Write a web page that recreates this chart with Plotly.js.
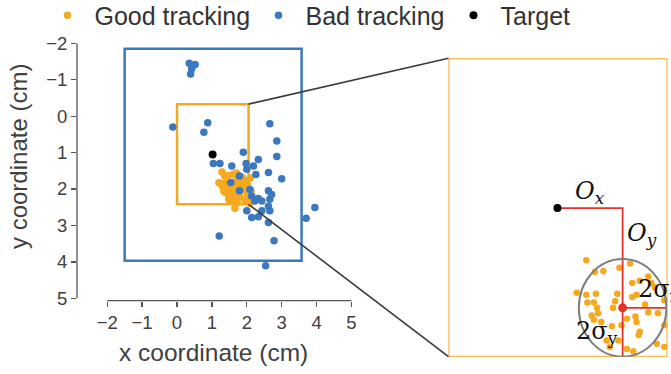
<!DOCTYPE html>
<html><head><meta charset="utf-8">
<script src="https://cdn.plot.ly/plotly-3.0.1.min.js"></script>
<style>html,body{margin:0;padding:0;background:#fff}#chart{width:671px;height:374px}</style>
</head><body><div id="chart"></div>
<script>
// ---- data (cm) ----
const goodX = [1.29,1.37,1.45,1.60,1.70,1.79,1.87,1.90,1.72,1.20,1.38,1.30,1.36,1.58,1.56,1.72,1.76,1.87,1.96,1.67,1.76,1.79,1.78,2.02,1.40,1.34,1.53,1.43,1.59,1.51,1.67,1.73,1.95,2.02,1.66,1.36,1.54,1.39,1.48,1.62,1.75,1.29,1.93,1.84,2.02,2.10,2.12,2.09];
const goodY = [1.53,1.64,1.63,1.60,1.56,1.72,1.68,1.74,1.74,1.83,1.84,1.92,1.92,1.84,1.91,1.87,1.85,2.01,2.02,2.07,2.10,2.19,2.22,2.13,2.02,2.04,2.14,2.10,2.27,2.33,2.35,2.37,2.30,2.33,2.53,2.08,1.97,1.97,2.27,2.13,2.05,1.85,1.78,1.94,1.90,1.70,2.05,2.40];
const badX = [0.35,0.52,0.42,0.39,0.45,-0.12,0.88,0.77,2.66,2.86,2.86,1.90,1.04,1.23,1.57,1.98,2.19,2.33,2.00,2.26,2.62,3.00,1.54,1.79,1.79,2.09,2.14,2.33,2.43,2.62,2.71,2.66,2.23,2.62,2.00,2.43,2.66,2.14,2.33,2.62,3.95,3.70,1.21,2.78,2.54];
const badY = [-1.45,-1.42,-1.30,-1.16,-1.40,0.30,0.18,0.44,0.21,0.68,1.11,0.99,1.30,1.30,1.37,1.30,1.37,1.19,1.46,1.60,1.55,1.72,1.82,1.64,2.05,2.01,2.19,2.26,2.33,2.05,2.15,2.28,2.33,2.47,2.60,2.60,2.60,2.78,2.76,2.92,2.51,2.80,3.29,3.42,4.11];
const targetX = [1.02];
const targetY = [1.05];
const meanX = [1.63];
const meanY = [1.97];
const twoSigmaX = [0.41];
const twoSigmaY = [0.45];
const outerBoxX = [-1.5, 3.57];
const outerBoxY = [-1.85, 3.97];
const zoomBoxX = [0, 2.05];
const zoomBoxY = [-0.33, 2.42];
const xTicks = [-2,-1,0,1,2,3,4,5];
const yTicks = [-2,-1,0,1,2,3,4,5];
const legendNames = ['Good tracking','Bad tracking','Target'];

// ---- styles ----
const W = 671, H = 374;
const ORANGE = '#F6A81F', BLUE = '#3B78BF', RED = '#E4312B', GREY = '#7f7f7f', DARK = '#404040';
const FONT = 'Liberation Sans, Arial, sans-serif';
const SERIF = 'DejaVu Serif, Liberation Serif, serif';

const ax1 = {domain:[77/W, 352/W], range:[(77-177)/34.9, (352-177)/34.9]};
const ay1 = {domain:[1-300.7/H, 1-43.3/H], range:[5.066, -2]};
const ax2 = {domain:[448.5/W, 667.5/W], range:[zoomBoxX[0], zoomBoxX[1]]};
const ay2 = {domain:[1-356.7/H, 1-58.3/H], range:[zoomBoxY[1], zoomBoxY[0]]};
function toPaper(a, v){ return a.domain[0] + (v-a.range[0])/(a.range[1]-a.range[0])*(a.domain[1]-a.domain[0]); }

const traces = [
  {x:goodX, y:goodY, type:'scatter', mode:'markers', name:legendNames[0], xaxis:'x', yaxis:'y', legendwidth:152,
   marker:{color:ORANGE, size:7.5}},
  {x:badX, y:badY, type:'scatter', mode:'markers', name:legendNames[1], xaxis:'x', yaxis:'y', legendwidth:136,
   marker:{color:BLUE, size:7.5}},
  {x:targetX, y:targetY, type:'scatter', mode:'markers', name:legendNames[2], xaxis:'x', yaxis:'y',
   marker:{color:'#000', size:8}},
  // zoomed panel
  {x:goodX, y:goodY, type:'scatter', mode:'markers', showlegend:false, xaxis:'x2', yaxis:'y2', cliponaxis:false,
   marker:{color:ORANGE, size:6.5}},
  {x:[targetX[0], meanX[0], meanX[0]], y:[targetY[0], targetY[0], zoomBoxY[1]], type:'scatter', mode:'lines',
   showlegend:false, xaxis:'x2', yaxis:'y2', line:{color:RED, width:1.8}},
  {x:[meanX[0], meanX[0]+twoSigmaX[0]], y:[meanY[0], meanY[0]], type:'scatter', mode:'lines',
   showlegend:false, xaxis:'x2', yaxis:'y2', line:{color:RED, width:1.8}},
  {x:targetX, y:targetY, type:'scatter', mode:'markers', showlegend:false, xaxis:'x2', yaxis:'y2',
   marker:{color:'#000', size:8}},
  {x:meanX, y:meanY, type:'scatter', mode:'markers', showlegend:false, xaxis:'x2', yaxis:'y2', cliponaxis:false,
   marker:{color:RED, size:9}}
];

const shapes = [
  {type:'rect', xref:'x', yref:'y', x0:outerBoxX[0], x1:outerBoxX[1], y0:outerBoxY[0], y1:outerBoxY[1],
   line:{color:BLUE, width:2.5}, layer:'below'},
  {type:'rect', xref:'x', yref:'y', x0:zoomBoxX[0], x1:zoomBoxX[1], y0:zoomBoxY[0], y1:zoomBoxY[1],
   line:{color:ORANGE, width:2.5}, layer:'below'},
  {type:'rect', xref:'x2', yref:'y2', x0:zoomBoxX[0], x1:zoomBoxX[1], y0:zoomBoxY[0], y1:zoomBoxY[1],
   line:{color:ORANGE, width:2}, layer:'below'},
  // spines bounded to the tick range
  {type:'line', xref:'x domain', yref:'y', x0:0, x1:0, y0:yTicks[0], y1:yTicks[yTicks.length-1], line:{color:'#555', width:1.3}},
  {type:'line', xref:'x', yref:'y domain', x0:xTicks[0], x1:xTicks[xTicks.length-1], y0:0, y1:0, line:{color:'#555', width:1.3}},
  // 2-sigma ellipse
  {type:'circle', xref:'x2', yref:'y2', x0:meanX[0]-twoSigmaX[0], x1:meanX[0]+twoSigmaX[0],
   y0:meanY[0]-twoSigmaY[0], y1:meanY[0]+twoSigmaY[0], line:{color:GREY, width:2}, layer:'above'},
  // connectors between the zoom box and the enlarged panel
  {type:'line', xref:'paper', yref:'paper', x0:toPaper(ax1, zoomBoxX[1]), y0:toPaper(ay1, zoomBoxY[0]),
   x1:toPaper(ax2, zoomBoxX[0]), y1:toPaper(ay2, zoomBoxY[0]), line:{color:'#3a3a3a', width:1.6}},
  {type:'line', xref:'paper', yref:'paper', x0:toPaper(ax1, zoomBoxX[1]), y0:toPaper(ay1, zoomBoxY[1]),
   x1:toPaper(ax2, zoomBoxX[0]), y1:toPaper(ay2, zoomBoxY[1]), line:{color:'#3a3a3a', width:1.6}}
];

const annFont = {family:SERIF, size:24, color:'#111'};
const annotations = [
  {xref:'paper', yref:'paper', x:213/W, y:1-352/H, text:'x coordinate (cm)', showarrow:false,
   xanchor:'center', yanchor:'middle', font:{family:FONT, size:24.5, color:DARK}},
  {xref:'paper', yref:'paper', x:18/W, y:1-157/H, text:'y coordinate (cm)', showarrow:false, textangle:-90,
   xanchor:'center', yanchor:'middle', font:{family:FONT, size:24, color:DARK}},
  {xref:'x2', yref:'y2', x:(targetX[0]+meanX[0])/2, y:targetY[0], yshift:-2, text:'<i>O</i><sub><i>x</i></sub>',
   showarrow:false, xanchor:'center', yanchor:'bottom', font:annFont},
  {xref:'x2', yref:'y2', x:meanX[0], y:targetY[0], xshift:2, yshift:-26, text:'<i>O</i><sub><i>y</i></sub>',
   showarrow:false, xanchor:'left', yanchor:'middle', font:annFont},
  {xref:'x2', yref:'y2', x:meanX[0], y:meanY[0], xshift:13, yshift:0, text:'2σ<sub>x</sub>',
   showarrow:false, xanchor:'left', yanchor:'bottom', font:annFont},
  {xref:'x2', yref:'y2', x:meanX[0], y:meanY[0], xshift:-3, yshift:-25, text:'2σ<sub>y</sub>',
   showarrow:false, xanchor:'right', yanchor:'middle', font:annFont}
];

const layout = {
  width:W, height:H, margin:{l:0, r:0, t:0, b:0, autoexpand:false}, paper_bgcolor:'#fff', plot_bgcolor:'rgba(0,0,0,0)',
  font:{family:FONT, color:DARK},
  showlegend:true,
  legend:{orientation:'h', x:40.5/W, xanchor:'left', y:1.02, yanchor:'top', itemwidth:44,
          font:{family:FONT, size:25, color:'#333'}, bgcolor:'rgba(0,0,0,0)', itemclick:false},
  xaxis:{domain:ax1.domain, range:ax1.range, anchor:'y', tickvals:xTicks, ticks:'outside', ticklen:5, tickwidth:1.3,
         tickcolor:'#555', showgrid:false, zeroline:false, showline:false, automargin:false,
         tickfont:{family:FONT, size:18.5, color:DARK}},
  yaxis:{domain:ay1.domain, range:ay1.range, anchor:'x', tickvals:yTicks, ticks:'outside', ticklen:5, tickwidth:1.3,
         tickcolor:'#555', showgrid:false, zeroline:false, showline:false, automargin:false,
         tickfont:{family:FONT, size:18.5, color:DARK}},
  xaxis2:{domain:ax2.domain, range:ax2.range, anchor:'y2', visible:false, showgrid:false, zeroline:false},
  yaxis2:{domain:ay2.domain, range:ay2.range, anchor:'x2', visible:false, showgrid:false, zeroline:false},
  shapes:shapes, annotations:annotations
};

Plotly.newPlot('chart', traces, layout, {displayModeBar:false, staticPlot:true});
</script></body></html>
